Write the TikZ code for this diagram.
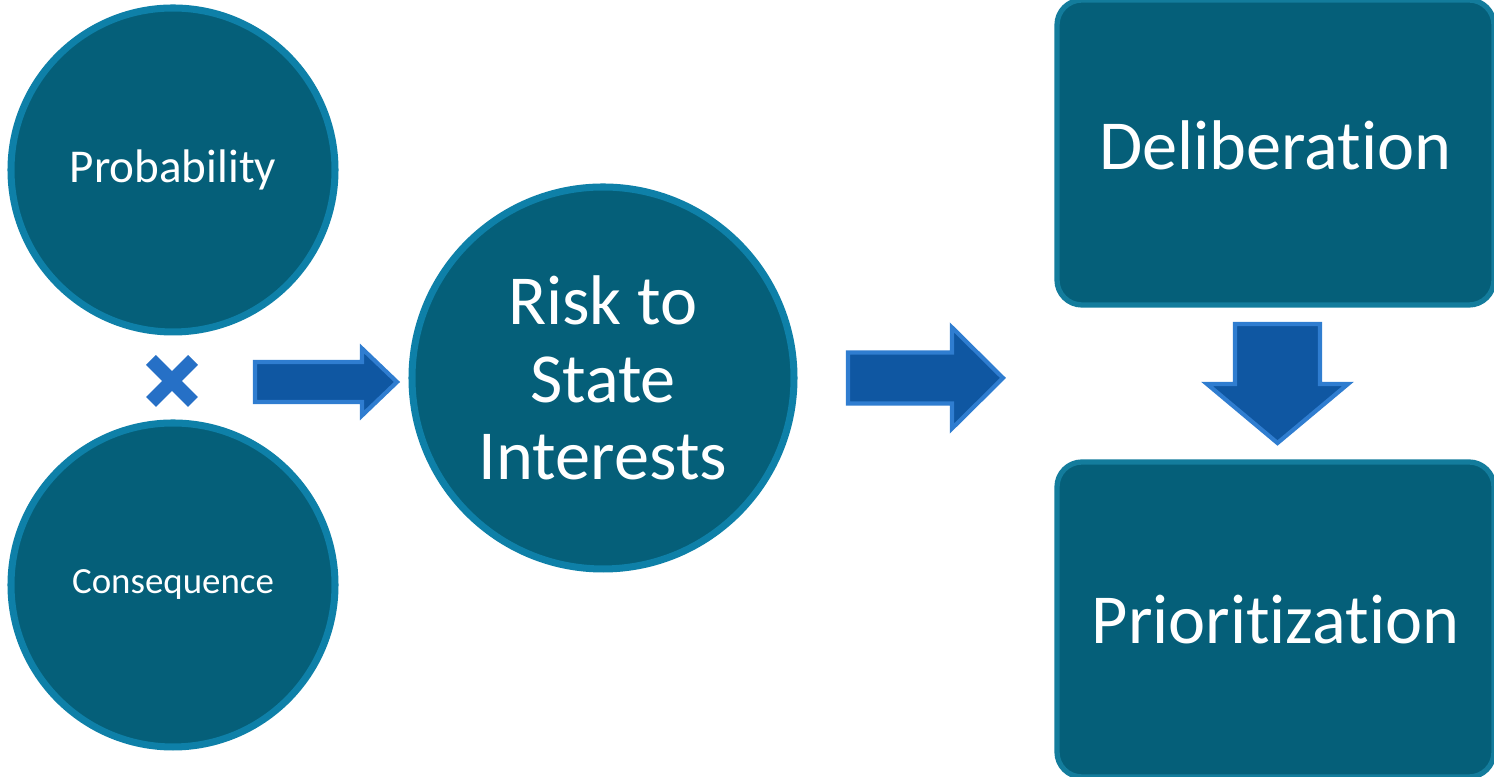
\documentclass[tikz,border=0pt]{standalone}
\usepackage{fontspec}
\setmainfont{Carlito}[Ligatures=NoCommon]
\usetikzlibrary{positioning}
\definecolor{discfill}{HTML}{055F79}
\definecolor{discring}{HTML}{0E80A8}
\definecolor{panelring}{HTML}{137C9C}
\definecolor{arrowfill}{HTML}{0F57A2}
\definecolor{arrowedge}{HTML}{2F7DD0}
\definecolor{crosscol}{HTML}{2670C6}
\begin{document}
\begin{tikzpicture}[
  disc/.style={circle, fill=discfill, draw=discring, line width=2pt, text=white, inner sep=0pt},
  panel/.style={rectangle, rounded corners=0.25cm, fill=discfill, draw=panelring, line width=1.5pt,
    text=white, minimum width=4.37cm, font=\fontsize{20}{22}\selectfont},
  blockarrow/.style={fill=arrowfill, draw=arrowedge, line width=1.2pt, line join=miter},
  crossbar/.style={draw=crosscol, line width=0.14cm}
]
  \useasboundingbox (0,0) rectangle (14.94,7.77);

  \node[disc, minimum size=3.24cm, font=\fontsize{13.4}{16}\selectfont] (prob) at (1.73,6.07) {Probability};
  \node[disc, minimum size=3.24cm, font=\fontsize{10.5}{13}\selectfont] (cons) at (1.73,1.92) {Consequence};
  \node[disc, minimum size=3.82cm, align=center, font=\fontsize{20}{22}\selectfont] (risk) at (6.03,3.99) {Risk to\\State\\Interests};
  \node[panel, minimum height=3.05cm, text depth=0.14cm] (delib) at (12.755,6.245) {Deliberation};
  \node[panel, minimum height=3.15cm] (prior) at (12.755,1.575) {Prioritization};

  % times sign between the two discs
  \coordinate (times) at (1.72,3.96);
  \draw[crossbar] ([shift={(-0.21,-0.21)}]times) -- ([shift={(0.21,0.21)}]times);
  \draw[crossbar] ([shift={(-0.21,0.21)}]times) -- ([shift={(0.21,-0.21)}]times);

  % block arrows: start x/start y/length/shaft half/head half/head length/rotation
  \foreach \x/\y/\l/\s/\h/\k/\r in {2.55/3.95/1.42/0.20/0.335/0.35/0, 8.48/3.99/1.55/0.255/0.505/0.51/0, 12.775/4.53/1.19/0.425/0.705/0.59/-90}
  {
    \filldraw[blockarrow, shift={(\x,\y)}, rotate=\r]
      (0,-\s) -- (\l-\k,-\s) -- (\l-\k,-\h) -- (\l,0) -- (\l-\k,\h) -- (\l-\k,\s) -- (0,\s) -- cycle;
  }
\end{tikzpicture}
\end{document}
